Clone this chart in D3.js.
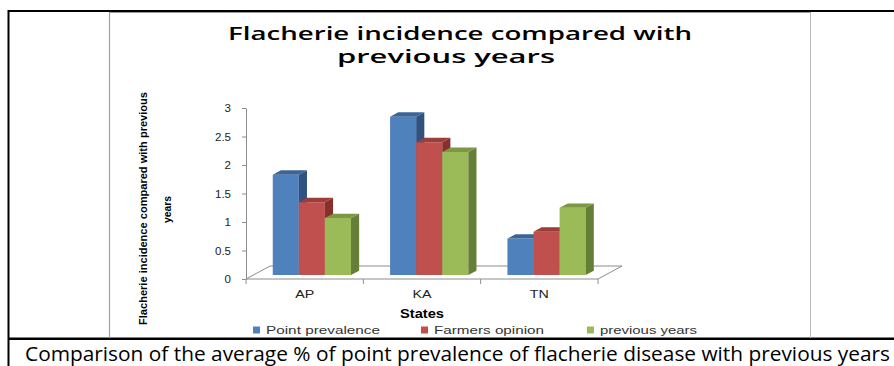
<!DOCTYPE html>
<html>
<head>
<meta charset="utf-8">
<script src="https://cdn.jsdelivr.net/npm/d3@7"></script>
<style>
  body { margin: 0; background: #fff; }
  svg { display: block; }
</style>
</head>
<body>
<svg id="chart" width="894" height="366"></svg>
<script>
// ---- data ----
const categories = ["AP", "KA", "TN"];
const seriesNames = ["Point prevalence", "Farmers opinion", "previous years"];
const pointPrevalence = [1.76, 2.78, 0.64];
const farmersOpinion = [1.28, 2.33, 0.76];
const previousYears = [1.0, 2.16, 1.18];
const yTickValues = [0, 0.5, 1, 1.5, 2, 2.5, 3];
const yTickLabels = ["0", "0.5", "1", "1.5", "2", "2.5", "3"];

const titleLines = ["Flacherie incidence  compared with", "previous years"];
const yTitleLines = ["Flacherie incidence compared with previous", "years"];
const xTitle = "States";
const caption = "Comparison of the average % of point prevalence of flacherie disease with previous years";

// ---- styles ----
const seriesValues = [pointPrevalence, farmersOpinion, previousYears];
const faceColors = [
  { front: "#4F81BD", top: "#3B6499", side: "#2F5280" },
  { front: "#C0504D", top: "#9E3C39", side: "#86302E" },
  { front: "#9BBB59", top: "#7C9845", side: "#667F38" }
];
const labelFont = "Liberation Sans, Arial, sans-serif";

const svg = d3.select("#chart");

// ---- table frame around the figure ----
svg.append("rect").attr("x", 8).attr("y", 10).attr("width", 886).attr("height", 2).attr("fill", "#000");
svg.append("rect").attr("x", 7.5).attr("y", 10).attr("width", 2).attr("height", 356).attr("fill", "#000");
svg.append("rect").attr("x", 8).attr("y", 337.5).attr("width", 886).attr("height", 2.5).attr("fill", "#000");
svg.append("line").attr("x1", 109.5).attr("x2", 109.5).attr("y1", 12).attr("y2", 338)
  .attr("stroke", "#a0a0a0").attr("stroke-width", 1.2);
svg.append("line").attr("x1", 810.5).attr("x2", 810.5).attr("y1", 12).attr("y2", 338)
  .attr("stroke", "#b8b8b8").attr("stroke-width", 1);
svg.append("line").attr("x1", 109).attr("x2", 810).attr("y1", 12.5).attr("y2", 12.5)
  .attr("stroke", "#9a9a9a").attr("stroke-width", 1);

// ---- scales & oblique projection ----
const plotLeft = 246, plotRight = 598;
const y = d3.scaleLinear().domain([0, 3]).range([279, 108]);
const x0 = d3.scaleBand().domain(categories).range([plotLeft, plotRight]);
const x1 = d3.scaleBand().domain(seriesNames).range([0, x0.bandwidth()]).paddingOuter(0.75);
const DEPTH_X = 24, DEPTH_Y = 13;      // floor depth offset
const Z0 = 0.3, Z1 = 0.64;             // bars' depth span within the floor
const proj = (x, v, z) => [x + z * DEPTH_X, y(v) - z * DEPTH_Y];
const poly = pts => pts.map(p => p.join(",")).join(" ");

// floor
svg.append("polygon")
  .attr("points", poly([proj(plotLeft, 0, 0), proj(plotRight, 0, 0), proj(plotRight, 0, 1), proj(plotLeft, 0, 1)]))
  .attr("fill", "#fff").attr("stroke", "#8c8c8c").attr("stroke-width", 1);

// value axis on the front-left edge
const yAxis = svg.append("g").attr("transform", `translate(${plotLeft},0)`)
  .call(d3.axisLeft(y).tickValues(yTickValues).tickSize(4).tickSizeOuter(0)
    .tickFormat((d, i) => yTickLabels[i]));
yAxis.select(".domain").attr("stroke", "#8c8c8c");
yAxis.selectAll(".tick line").attr("stroke", "#8c8c8c");
yAxis.selectAll(".tick text")
  .attr("x", -15).attr("font-family", labelFont)
  .attr("font-size", 11.5).attr("fill", "#222");

// category axis: boundary ticks + labels
const boundaries = categories.map(c => x0(c)).concat([plotRight]);
svg.append("g").selectAll("line").data(boundaries).join("line")
  .attr("x1", d => d).attr("x2", d => d).attr("y1", y(0)).attr("y2", y(0) + 5)
  .attr("stroke", "#8c8c8c");
svg.append("g").selectAll("text").data(categories).join("text")
  .attr("transform", d => `translate(${x0(d) + x0.bandwidth() / 2},297.5) scale(1.3,1)`)
  .attr("text-anchor", "middle")
  .attr("font-family", labelFont).attr("font-size", 11)
  .attr("fill", "#222").text(d => d);

// ---- 3D bars ----
const bars = [];
categories.forEach((c, ci) => {
  seriesNames.forEach((s, si) => {
    bars.push({ c, s, si, v: seriesValues[si][ci] });
  });
});
const barG = svg.append("g");
bars.forEach(b => {
  const xl = x0(b.c) + x1(b.s), xr = xl + x1.bandwidth();
  const col = faceColors[b.si];
  const g = barG.append("g");
  g.append("polygon")
    .attr("points", poly([proj(xl, 0, Z0), proj(xr, 0, Z0), proj(xr, b.v, Z0), proj(xl, b.v, Z0)]))
    .attr("fill", col.front);
  g.append("polygon")
    .attr("points", poly([proj(xr, 0, Z0), proj(xr, 0, Z1), proj(xr, b.v, Z1), proj(xr, b.v, Z0)]))
    .attr("fill", col.side);
  g.append("polygon")
    .attr("points", poly([proj(xl, b.v, Z0), proj(xr, b.v, Z0), proj(xr, b.v, Z1), proj(xl, b.v, Z1)]))
    .attr("fill", col.top);
});

// ---- titles ----
const titleFont = "Open Sans, Liberation Sans, sans-serif";
svg.append("text").attr("x", 228).attr("y", 39.5)
  .attr("font-family", titleFont).attr("font-weight", 600).attr("font-size", 18)
  .attr("textLength", 464).attr("lengthAdjust", "spacingAndGlyphs")
  .attr("fill", "#000").text(titleLines[0]);
svg.append("text").attr("x", 337).attr("y", 63)
  .attr("font-family", titleFont).attr("font-weight", 600).attr("font-size", 18)
  .attr("textLength", 218).attr("lengthAdjust", "spacingAndGlyphs")
  .attr("fill", "#000").text(titleLines[1]);

// y axis title (two rotated lines)
svg.append("text").attr("transform", "translate(146.5,208.5) rotate(-90)")
  .attr("text-anchor", "middle")
  .attr("font-family", labelFont).attr("font-weight", "bold").attr("font-size", 11)
  .attr("textLength", 233).attr("lengthAdjust", "spacingAndGlyphs")
  .attr("fill", "#000").text(yTitleLines[0]);
svg.append("text").attr("transform", "translate(170.5,209.5) rotate(-90)")
  .attr("text-anchor", "middle")
  .attr("font-family", labelFont).attr("font-weight", "bold").attr("font-size", 11)
  .attr("textLength", 27).attr("lengthAdjust", "spacingAndGlyphs")
  .attr("fill", "#000").text(yTitleLines[1]);

// x axis title
svg.append("text").attr("x", 422).attr("y", 318).attr("text-anchor", "middle")
  .attr("font-family", labelFont).attr("font-weight", "bold").attr("font-size", 12)
  .attr("textLength", 44).attr("lengthAdjust", "spacingAndGlyphs")
  .attr("fill", "#000").text(xTitle);

// ---- legend ----
const legendX = [253, 421, 587];
const legendTextLen = [114, 110, 97];
const legend = svg.append("g").selectAll("g").data(seriesNames).join("g")
  .attr("transform", (d, i) => `translate(${legendX[i]},0)`);
legend.append("rect").attr("x", 0).attr("y", 326.5).attr("width", 7).attr("height", 7)
  .attr("fill", (d, i) => faceColors[i].front);
legend.append("text").attr("x", 13).attr("y", 333.8)
  .attr("font-family", labelFont).attr("font-size", 11)
  .attr("textLength", (d, i) => legendTextLen[i]).attr("lengthAdjust", "spacingAndGlyphs")
  .attr("fill", "#333").text(d => d);

// ---- caption below the figure ----
svg.append("text").attr("x", 25).attr("y", 360.5)
  .attr("font-family", "Open Sans, Liberation Sans, sans-serif").attr("font-size", 20)
  .attr("textLength", 865).attr("lengthAdjust", "spacingAndGlyphs")
  .attr("fill", "#000").text(caption);
</script>
</body>
</html>
